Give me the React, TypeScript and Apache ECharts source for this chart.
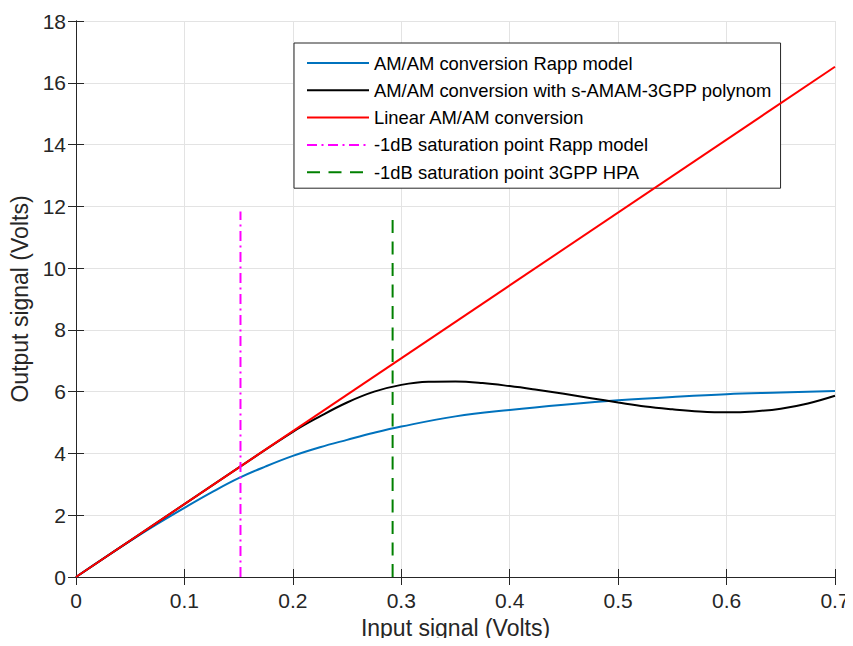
import React, { useEffect, useRef } from "react";
import * as echarts from "echarts";

const xTicks = [0, 0.1, 0.2, 0.3, 0.4, 0.5, 0.6, 0.7];
const rappX = [0, 0.025, 0.05, 0.075, 0.1, 0.125, 0.15, 0.175, 0.2, 0.225, 0.25, 0.275, 0.3, 0.35, 0.4, 0.45, 0.5, 0.55, 0.6, 0.65, 0.7];
const rappY = [0, 0.59, 1.17, 1.72, 2.24, 2.74, 3.2, 3.58, 3.92, 4.2, 4.44, 4.67, 4.87, 5.2, 5.41, 5.58, 5.72, 5.83, 5.92, 5.97, 6.02];
const polyX = [0, 0.05, 0.1, 0.15, 0.2, 0.225, 0.25, 0.275, 0.3, 0.325, 0.35, 0.375, 0.4, 0.425, 0.45, 0.475, 0.5, 0.525, 0.55, 0.575, 0.6, 0.625, 0.65, 0.675, 0.7];
const polyY = [0, 1.18, 2.36, 3.54, 4.7, 5.2, 5.65, 6.0, 6.22, 6.32, 6.33, 6.28, 6.18, 6.06, 5.93, 5.79, 5.65, 5.52, 5.43, 5.36, 5.33, 5.36, 5.45, 5.62, 5.87];
const linearX = [0, 0.7];
const linearY = [0, 16.52];
const rappSatX = 0.1517;
const gppSatX = 0.292;
const satLineTop = 11.83;

const names = [
  "AM/AM conversion Rapp model",
  "AM/AM conversion with s-AMAM-3GPP polynom",
  "Linear AM/AM conversion",
  "-1dB saturation point Rapp model",
  "-1dB saturation point 3GPP HPA",
];

const zip = (xs: number[], ys: number[]) => xs.map((x, i) => [x, ys[i]]);

const FONT = "'Liberation Sans', Arial, Helvetica, sans-serif";
const AX = "#262626";

export default function App() {
  const ref = useRef<HTMLDivElement>(null);
  useEffect(() => {
    const chart = echarts.init(ref.current!, null, { renderer: "svg" });
    const hiddenAxis = {
      type: "value" as const,
      min: 0,
      axisLine: { show: true, lineStyle: { color: AX, width: 1 } },
      axisTick: { show: true, inside: true, length: 8, lineStyle: { color: AX } },
      axisLabel: { show: false },
      splitLine: { show: false },
    };
    chart.setOption({
      animation: false,
      backgroundColor: "#ffffff",
      grid: { left: 76, right: 18, top: 21, bottom: 69, containLabel: false },
      xAxis: [
        {
          type: "value",
          min: 0,
          max: 0.7,
          interval: 0.1,
          name: "Input signal (Volts)",
          nameLocation: "middle",
          nameGap: 39,
          nameTextStyle: { fontFamily: FONT, fontSize: 23, color: AX },
          axisLine: { show: true, lineStyle: { color: AX, width: 1 } },
          axisTick: { show: true, inside: true, length: 8, lineStyle: { color: AX } },
          axisLabel: {
            fontFamily: FONT,
            fontSize: 21,
            color: AX,
            margin: 13,
            formatter: (v: number) => {
              const t = xTicks.find((k) => Math.abs(k - v) < 1e-9);
              return t === undefined ? "" : String(t);
            },
          },
          splitLine: { show: true, lineStyle: { color: "#e3e3e3", width: 1 } },
        },
        { ...hiddenAxis, position: "top", max: 0.7, interval: 0.1 },
      ],
      yAxis: [
        {
          type: "value",
          min: 0,
          max: 18,
          interval: 2,
          name: "Output signal (Volts)",
          nameLocation: "middle",
          nameGap: 41,
          nameTextStyle: { fontFamily: FONT, fontSize: 23, color: AX },
          axisLine: { show: true, lineStyle: { color: AX, width: 1 } },
          axisTick: { show: true, inside: true, length: 8, lineStyle: { color: AX } },
          axisLabel: { fontFamily: FONT, fontSize: 21, color: AX, margin: 10 },
          splitLine: { show: true, lineStyle: { color: "#e3e3e3", width: 1 } },
        },
        { ...hiddenAxis, position: "right", max: 18, interval: 2 },
      ],
      legend: {
        orient: "vertical",
        left: 294,
        top: 43,
        padding: [11, 9, 7, 12],
        itemGap: 9.3,
        itemWidth: 62,
        itemHeight: 18,
        backgroundColor: "#ffffff",
        borderColor: "#262626",
        borderWidth: 1,
        borderRadius: 0,
        itemStyle: { opacity: 0 },
        textStyle: { fontFamily: FONT, fontSize: 18.4, color: "#000000" },
        data: names,
      },
      series: [
        {
          name: names[0],
          type: "line",
          data: zip(rappX, rappY),
          smooth: 0.4,
          showSymbol: false,
          symbol: "none",
          lineStyle: { color: "#0072BD", width: 2 },
          itemStyle: { color: "#0072BD" },
          z: 3,
        },
        {
          name: names[1],
          type: "line",
          data: zip(polyX, polyY),
          smooth: 0.4,
          showSymbol: false,
          symbol: "none",
          lineStyle: { color: "#000000", width: 2 },
          itemStyle: { color: "#000000" },
          z: 4,
        },
        {
          name: names[2],
          type: "line",
          data: zip(linearX, linearY),
          showSymbol: false,
          symbol: "none",
          lineStyle: { color: "#FF0000", width: 2 },
          itemStyle: { color: "#FF0000" },
          z: 5,
        },
        {
          name: names[3],
          type: "line",
          data: [[rappSatX, 0], [rappSatX, satLineTop]],
          showSymbol: false,
          symbol: "none",
          lineStyle: { color: "#FF00FF", width: 2, type: [10, 4.5, 2, 4.5] },
          itemStyle: { color: "#FF00FF" },
          z: 6,
        },
        {
          name: names[4],
          type: "line",
          data: [[gppSatX, 0], [gppSatX, satLineTop]],
          showSymbol: false,
          symbol: "none",
          lineStyle: { color: "#008000", width: 2, type: [13, 8.5] },
          itemStyle: { color: "#008000" },
          z: 6,
        },
      ],
    });
    return () => chart.dispose();
  }, []);
  return <div ref={ref} style={{ width: 853, height: 646, margin: -8 }} />;
}
